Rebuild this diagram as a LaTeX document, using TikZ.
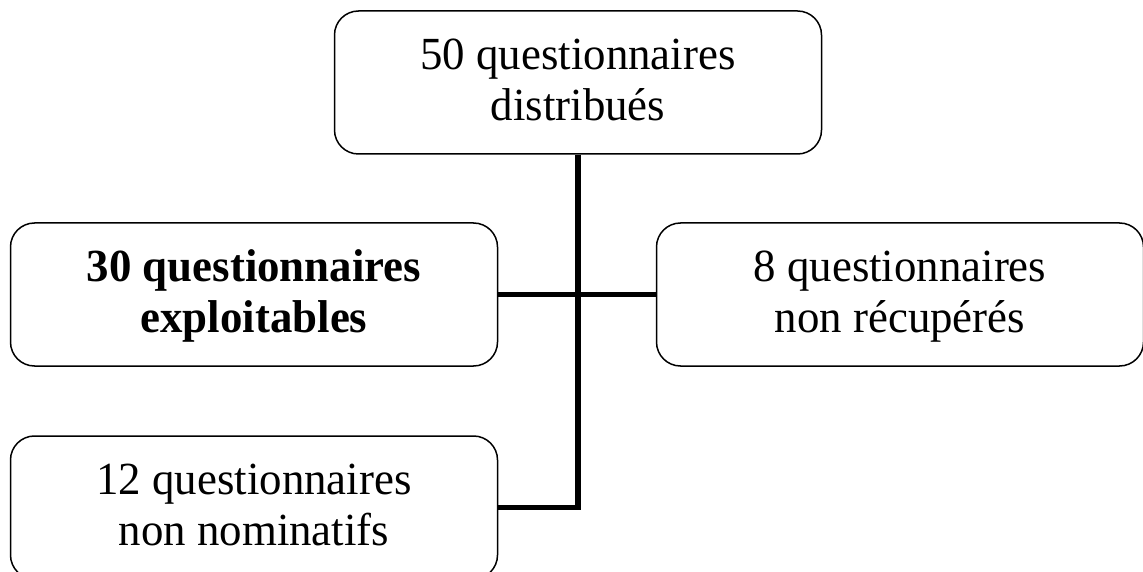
\documentclass[tikz,border=0pt]{standalone}
\usepackage{fontspec}
\setmainfont{Liberation Serif}[FakeStretch=0.975]
\newcommand\linestrut{\rule[-10pt]{0pt}{45pt}}
\begin{document}
\begin{tikzpicture}[x=1pt,y=1pt,
  box/.style={draw, rounded corners=24pt, line width=1.5pt, minimum width=487pt, minimum height=143pt, align=center, font=\fontsize{46}{51}\selectfont, inner sep=0pt},
  link/.style={line width=5.5pt, line join=miter}]
\useasboundingbox (0,0) rectangle (1143,571);
\node[box] (top) at (578,488.5) {\linestrut 50 questionnaires\\\linestrut distribués};
\node[box, font=\fontsize{46}{51}\selectfont\bfseries] (left) at (254,276.5) {\linestrut 30 questionnaires\\\linestrut exploitables};
\node[box] (right) at (900,276.5) {\linestrut 8 questionnaires\\\linestrut non récupérés};
\node[box] (bot) at (254,63.5) {\linestrut 12 questionnaires\\\linestrut non nominatifs};
\coordinate (corner) at (578,63.5);
\draw[link] (top.south) -- (corner) -- (bot.east);
\draw[link] (left.east) -- (right.west);
\end{tikzpicture}
\end{document}
